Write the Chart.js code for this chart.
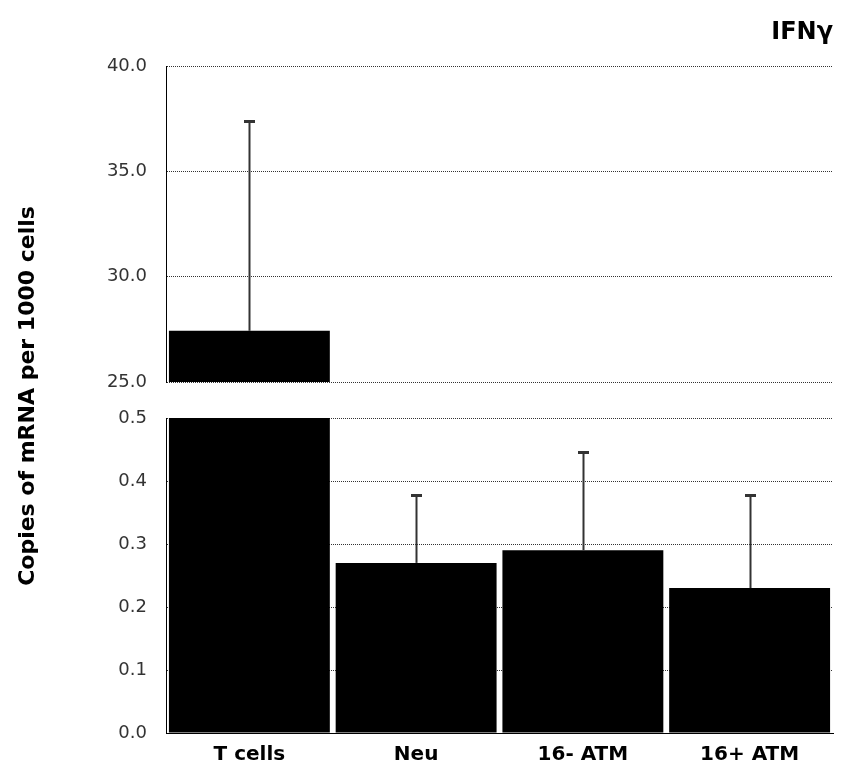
<!DOCTYPE html>
<html><head><meta charset="utf-8">
<script src="https://cdn.jsdelivr.net/npm/chart.js@4.4.1/dist/chart.umd.min.js"></script>
<style>
html,body{margin:0;padding:0;background:#fff;}
#wrap{position:relative;width:842px;height:772px;}
canvas{position:absolute;left:0;top:0;}
</style></head><body>
<div id="wrap"><canvas id="cTop" width="842" height="772"></canvas><canvas id="cBottom" width="842" height="772"></canvas></div>
<script>
const categories = ['T cells', 'Neu', '16- ATM', '16+ ATM'];
const meanValues = [27.43, 0.27, 0.29, 0.23];
const errorValues = [9.94, 0.108, 0.156, 0.147];
const topTicks = [25, 30, 35, 40];
const bottomTicks = [0, 0.1, 0.2, 0.3, 0.4, 0.5];
const chartTitle = 'IFNγ';
const yAxisTitle = 'Copies of mRNA per 1000 cells';

const FONT = "'DejaVu Sans', Verdana, sans-serif";

const errorBarPlugin = {
  id: 'errorBars',
  afterDatasetsDraw(chart) {
    const meta = chart.getDatasetMeta(0);
    const ys = chart.scales.y;
    const ctx = chart.ctx;
    ctx.save();
    ctx.strokeStyle = '#333';
    meta.data.forEach((bar, i) => {
      const v = meanValues[i], e = errorValues[i];
      if (v < ys.min || v > ys.max) return;
      const x = Math.round(bar.x) + 0.5;
      const y0 = ys.getPixelForValue(v);
      const y1 = Math.round(ys.getPixelForValue(v + e));
      ctx.lineWidth = 2;
      ctx.beginPath();
      ctx.moveTo(x, y0); ctx.lineTo(x, y1);
      ctx.stroke();
      ctx.lineWidth = 3;
      ctx.beginPath();
      ctx.moveTo(x - 5.5, y1 + 0.5); ctx.lineTo(x + 5.5, y1 + 0.5);
      ctx.stroke();
    });
    ctx.restore();
  }
};

const textPlugin = {
  id: 'texts',
  afterDraw(chart, args, opts) {
    const ctx = chart.ctx;
    ctx.save();
    ctx.fillStyle = '#000';
    if (opts.title) {
      ctx.font = "bold 24px " + FONT;
      ctx.textAlign = 'right';
      ctx.textBaseline = 'middle';
      ctx.fillText(chartTitle, 833, 33);
    }
    if (opts.yTitle) {
      ctx.translate(28, 396);
      ctx.rotate(-Math.PI / 2);
      ctx.font = "bold 22px " + FONT;
      ctx.textAlign = 'center';
      ctx.textBaseline = 'middle';
      ctx.fillText(yAxisTitle, 0, 0);
    }
    ctx.restore();
  }
};

function makeChart(id, tickList, isTop) {
  const yMin = tickList[0], yMax = tickList[tickList.length - 1];
  return new Chart(document.getElementById(id), {
    type: 'bar',
    data: {
      labels: categories,
      datasets: [{
        data: meanValues,
        backgroundColor: '#000',
        borderWidth: 0,
        barPercentage: 0.965,
        categoryPercentage: 1,
        clip: 0
      }]
    },
    options: {
      responsive: false,
      animation: false,
      devicePixelRatio: 1,
      layout: { padding: isTop ? { left: 0, right: 9, top: 66, bottom: 390 } : { left: 0, right: 9, top: 418, bottom: 0 } },
      plugins: {
        legend: { display: false },
        tooltip: { enabled: false },
        texts: { title: isTop, yTitle: !isTop }
      },
      scales: {
        x: {
          display: !isTop,
          grid: { display: false },
          border: { display: true, color: '#000', width: 1 },
          ticks: { color: '#000', font: { family: FONT, size: 20, weight: 'bold' }, padding: 2, maxRotation: 0 },
          afterFit: s => { if (!isTop) s.height = 39; }
        },
        y: {
          min: yMin, max: yMax,
          afterBuildTicks: s => { s.ticks = tickList.map(v => ({ value: v })); },
          afterFit: s => { s.width = 166; },
          grid: { color: '#333', lineWidth: 1, drawTicks: false },
          border: { display: true, color: '#000', width: 1, dash: [1, 1] },
          ticks: { color: '#333', padding: 19, font: { family: FONT, size: 18 }, callback: v => Number(v).toFixed(1) }
        }
      }
    },
    plugins: [errorBarPlugin, textPlugin]
  });
}

makeChart('cTop', topTicks, true);
makeChart('cBottom', bottomTicks, false);
</script>
</body></html>
